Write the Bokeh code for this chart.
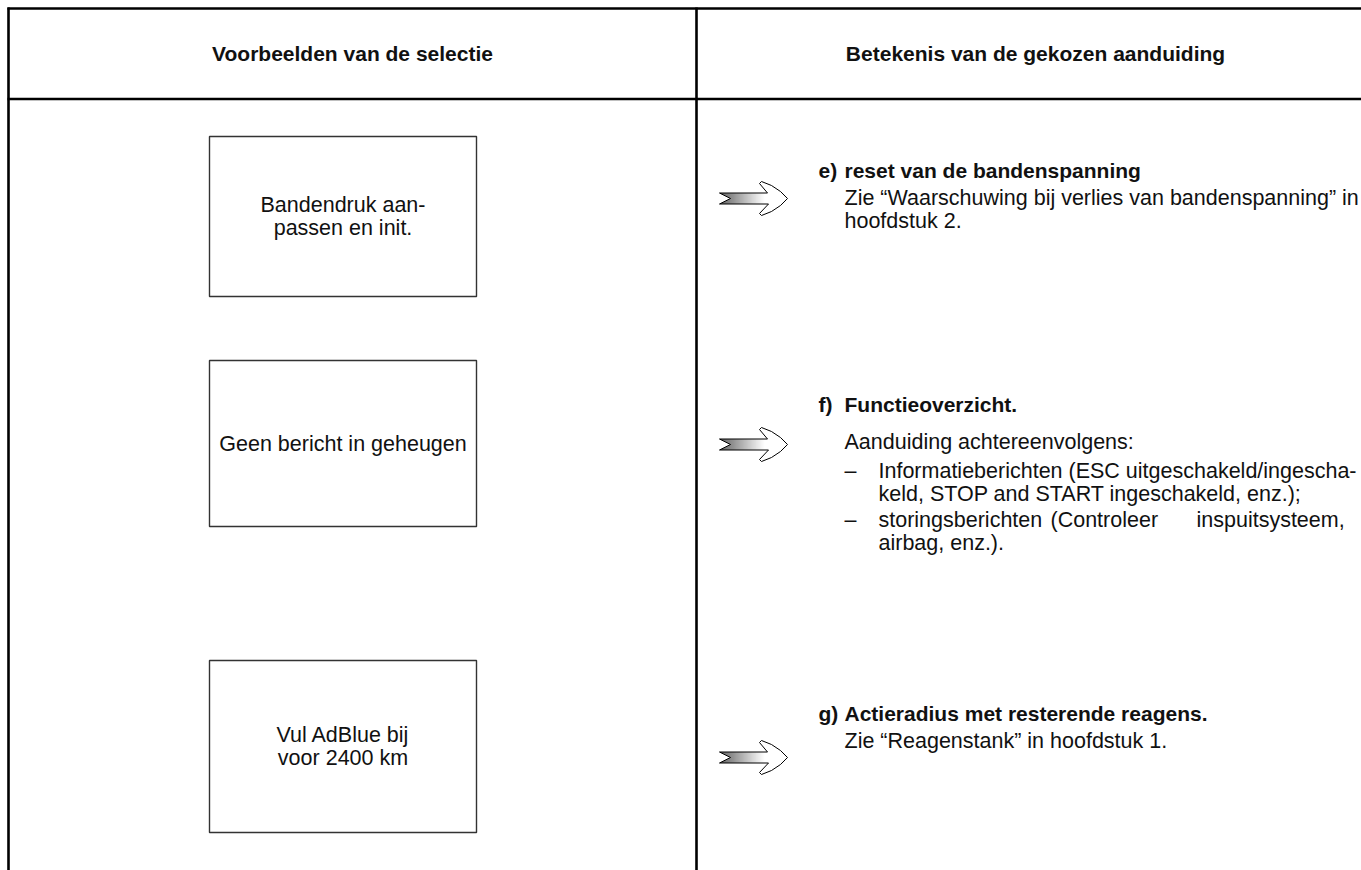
from bokeh.plotting import figure
from bokeh.models import Range1d
from bokeh.core.properties import value
from bokeh.embed import file_html
from bokeh.resources import INLINE

# ---------------- content ----------------
header_left = "Voorbeelden van de selectie"
header_right = "Betekenis van de gekozen aanduiding"

box_lines = [
    ["Bandendruk aan-", "passen en init."],
    ["Geen bericht in geheugen"],
    ["Vul AdBlue bij", "voor 2400 km"],
]

item_letters = ["e)", "f)", "g)"]
item_titles = ["reset van de bandenspanning", "Functieoverzicht.", "Actieradius met resterende reagens."]
item_e_body = ["Zie \u201cWaarschuwing bij verlies van bandenspanning\u201d in", "hoofdstuk 2."]
item_f_intro = "Aanduiding achtereenvolgens:"
item_f_bullet1 = ["Informatieberichten (ESC uitgeschakeld/ingescha-", "keld, STOP and START ingeschakeld, enz.);"]
item_f_bullet2_words = ["storingsberichten", "(Controleer", "inspuitsysteem,"]
item_f_bullet2_line2 = "airbag, enz.)."
item_g_body = ["Zie \u201cReagenstank\u201d in hoofdstuk 1."]

# ---------------- layout ----------------
W, H = 1361, 870
FONT = value("Liberation Sans")
p = figure(width=W, height=H, x_range=Range1d(0, W), y_range=Range1d(H, 0),
           output_backend="svg", toolbar_location=None, min_border=0)
p.axis.visible = False
p.grid.visible = False
p.outline_line_color = None
p.background_fill_color = "white"
p.border_fill_color = "white"


def txt(x, y, s, size="21.5px", bold=False, align="left"):
    p.text(x=[x], y=[y], text=[s], text_font=FONT, text_font_size=size,
           text_font_style="bold" if bold else "normal", text_align=align,
           text_baseline="middle", text_color="#111111")


# table rules
p.segment(x0=[7, 8, 7, 696], y0=[8, 7, 98.5, 7], x1=[W, 8, W, 696], y1=[8, H, 98.5, H],
          line_color="black", line_width=2.6)

# headers
txt(352, 53, header_left, size="21px", bold=True, align="center")
txt(1035, 53, header_right, size="21px", bold=True, align="center")

# left boxes
box_top = [136, 360, 660]
box_bot = [296, 526, 832]
p.quad(left=[209] * 3, right=[476] * 3, top=box_top, bottom=box_bot,
       fill_alpha=0, line_color="#333333", line_width=1.4)
LH = 23
for lines, t, b in zip(box_lines, box_top, box_bot):
    c = (t + b) / 2
    n = len(lines)
    for i, s in enumerate(lines):
        txt(342.5, c + (i - (n - 1) / 2) * LH, s, align="center")


# arrows
def arrow(x0, yc):
    hs = 5.5
    head = [(x0 + 48, yc - hs), (x0 + 40, yc - 15), (x0 + 42, yc - 17), (x0 + 52, yc - 13),
            (x0 + 61, yc - 7), (x0 + 68, yc), (x0 + 61, yc + 7), (x0 + 52, yc + 13),
            (x0 + 42, yc + 17), (x0 + 40, yc + 15), (x0 + 49, yc + hs)]
    p.patch([q[0] for q in head], [q[1] for q in head], fill_color="white", line_color=None)
    n = 50
    lefts, rights, cols = [], [], []
    for i in range(n):
        tt = i / (n - 1)
        g = int(55 + (255 - 55) * min(1.0, tt * 1.1))
        lefts.append(x0 + i)
        rights.append(x0 + i + 1.05)
        cols.append("#%02x%02x%02x" % (g, g, g))
    p.quad(left=lefts, right=rights, top=[yc - hs] * n, bottom=[yc + hs] * n,
           fill_color=cols, line_color=None)
    p.patch([x0 - 1, x0 + 11, x0 - 1], [yc - hs - 0.5, yc, yc + hs + 0.5], fill_color="white", line_color=None)
    outline = [(x0, yc - hs)] + head + [(x0, yc + hs), (x0 + 11, yc), (x0, yc - hs)]
    p.line([q[0] for q in outline], [q[1] for q in outline], line_color="black", line_width=1)


XL = 818   # item letter
XT = 844   # text indent
XB = 878   # bullet text indent

# item e
arrow(719, 198)
txt(XL, 170, item_letters[0], size="21px", bold=True)
txt(XT, 170, item_titles[0], size="21px", bold=True)
txt(XT, 197, item_e_body[0])
txt(XT, 220, item_e_body[1])

# item f
arrow(719, 444)
txt(XL, 404, item_letters[1], size="21px", bold=True)
txt(XT, 404, item_titles[1], size="21px", bold=True)
txt(XT, 441, item_f_intro)
txt(XT, 470, "\u2013")
txt(XB, 470, item_f_bullet1[0])
txt(XB, 493, item_f_bullet1[1])
txt(XT, 519, "\u2013")
for wx, w in zip([XB, 1050, 1196], item_f_bullet2_words):
    txt(wx, 519, w)
txt(XB, 542, item_f_bullet2_line2)

# item g
arrow(719, 757)
txt(XL, 713, item_letters[2], size="21px", bold=True)
txt(XT, 713, item_titles[2], size="21px", bold=True)
txt(XT, 740, item_g_body[0])

open("out.html", "w", encoding="utf-8").write(file_html(p, INLINE))
